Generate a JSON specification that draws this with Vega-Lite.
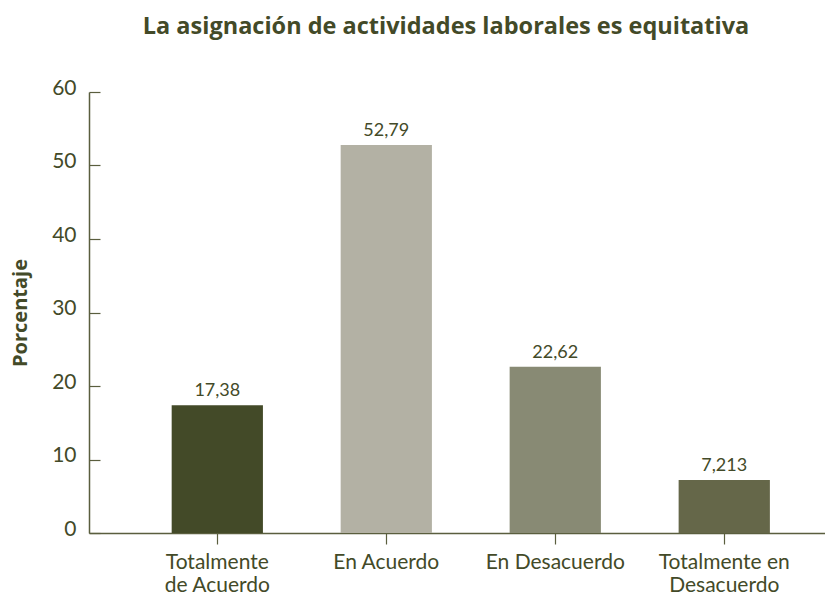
{
  "$schema": "https://vega.github.io/schema/vega-lite/v6.json",
  "width": 736,
  "height": 441,
  "autosize": "none",
  "padding": {"left": 89, "top": 92, "right": 0, "bottom": 64},
  "background": "white",
  "title": {
    "text": "La asignación de actividades laborales es equitativa",
    "font": "Open Sans",
    "fontSize": 23.5,
    "fontWeight": "bold",
    "color": "#434a28",
    "anchor": "middle",
    "offset": 39,
    "dx": -11
  },
  "config": {
    "view": {"stroke": null},
    "locale": {"number": {"decimal": ",", "thousands": ".", "grouping": [3], "currency": ["", " €"]}}
  },
  "data": {
    "values": [
      {"Respuesta": "Totalmente de Acuerdo", "Porcentaje": 17.38},
      {"Respuesta": "En Acuerdo", "Porcentaje": 52.79},
      {"Respuesta": "En Desacuerdo", "Porcentaje": 22.62},
      {"Respuesta": "Totalmente en Desacuerdo", "Porcentaje": 7.213}
    ]
  },
  "encoding": {
    "x": {
      "field": "Respuesta",
      "type": "nominal",
      "sort": null,
      "scale": {"paddingInner": 0.46, "paddingOuter": 0.4077, "align": 0.6},
      "axis": {
        "title": null,
        "labelAngle": 0,
        "labelFont": "Lato",
        "labelFontSize": 21,
        "labelColor": "#434a28",
        "labelLineHeight": 23,
        "labelPadding": 7,
        "labelExpr": "datum.value == 'Totalmente de Acuerdo' ? ['Totalmente', 'de Acuerdo'] : datum.value == 'Totalmente en Desacuerdo' ? ['Totalmente en', 'Desacuerdo'] : datum.value",
        "domainColor": "#5a5e3e",
        "domainWidth": 1.5,
        "tickColor": "#5a5e3e",
        "tickSize": 11,
        "tickWidth": 1.2
      }
    },
    "y": {
      "field": "Porcentaje",
      "type": "quantitative",
      "scale": {"domain": [0, 60], "nice": false},
      "axis": {
        "values": [0, 10, 20, 30, 40, 50, 60],
        "grid": false,
        "title": "Porcentaje",
        "titleFont": "Open Sans",
        "titleFontSize": 20,
        "titleFontWeight": "bold",
        "titleColor": "#434a28",
        "titlePadding": 21,
        "labelFont": "Lato",
        "labelFontSize": 21,
        "labelColor": "#434a28",
        "labelOffset": -4,
        "labelPadding": 24,
        "domainColor": "#5a5e3e",
        "domainWidth": 1.5,
        "tickColor": "#5a5e3e",
        "tickSize": -11,
        "tickWidth": 1.2
      }
    }
  },
  "layer": [
    {
      "mark": {"type": "bar"},
      "encoding": {
        "color": {
          "field": "Respuesta",
          "type": "nominal",
          "sort": null,
          "scale": {"range": ["#434a28", "#b3b1a4", "#888a74", "#656749"]},
          "legend": null
        }
      }
    },
    {
      "mark": {"type": "text", "font": "Lato", "fontSize": 18, "color": "#434a28", "baseline": "alphabetic", "dy": -9},
      "encoding": {
        "text": {"field": "Porcentaje", "type": "quantitative", "format": ""}
      }
    }
  ]
}
